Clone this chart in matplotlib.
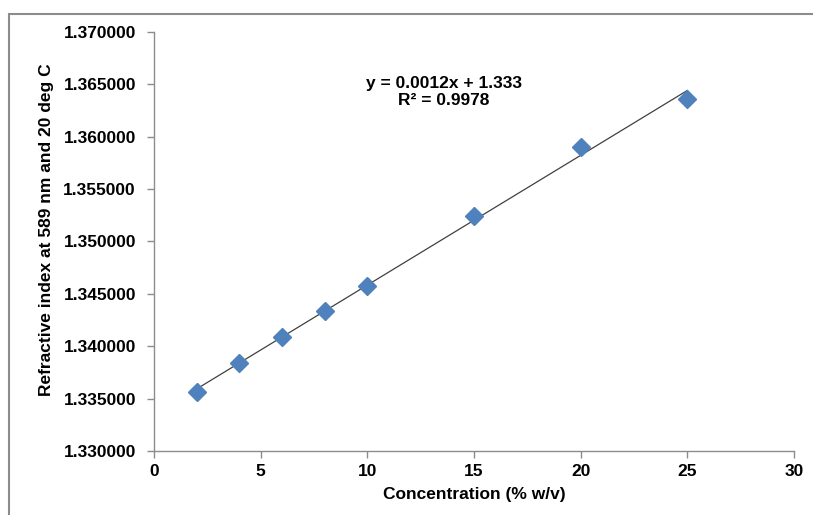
import numpy as np
import matplotlib
matplotlib.use("Agg")
import matplotlib.pyplot as plt
from matplotlib.patches import Rectangle

concentration = [2, 4, 6, 8, 10, 15, 20, 25]
refractive_index = [1.33563, 1.33840, 1.34088, 1.34337, 1.34575, 1.35243, 1.35902, 1.36360]
x_ticks = [0, 5, 10, 15, 20, 25, 30]
y_ticks = [1.330, 1.335, 1.340, 1.345, 1.350, 1.355, 1.360, 1.365, 1.370]
equation_text = "y = 0.0012x + 1.333\nR² = 0.9978"

plt.rcParams['font.family'] = ['Liberation Sans', 'DejaVu Sans']
FS = 12.5

fig = plt.figure(figsize=(8.13, 5.15), dpi=100)
W, H = 813, 515
# outer chart frame
fig.patches.append(Rectangle((8.5 / W, -0.05), 1.2, (H - 13.5) / H + 0.05,
                             transform=fig.transFigure, fill=False,
                             edgecolor='#8c8c8c', linewidth=1.5))

ax = fig.add_axes([154 / W, (H - 451) / H, (794 - 154) / W, (451 - 32) / H])
ax.set_xlim(0, 30)
ax.set_ylim(1.33, 1.37)
ax.set_xticks(x_ticks)
ax.set_yticks(y_ticks)
ax.set_yticklabels([f"{v:.6f}" for v in y_ticks])
ax.set_xticklabels([str(v) for v in x_ticks])

for s in ['top', 'right']:
    ax.spines[s].set_visible(False)
for s in ['left', 'bottom']:
    ax.spines[s].set_color('#8c8c8c')
    ax.spines[s].set_linewidth(1.0)
ax.tick_params(axis='both', colors='#8c8c8c', length=5, width=1.0, direction='out',
               labelcolor='black', labelsize=FS)
for lbl in ax.get_xticklabels() + ax.get_yticklabels():
    lbl.set_fontweight('bold')
ax.tick_params(axis='y', pad=8)
ax.tick_params(axis='x', pad=4)

# trendline
coef = np.polyfit(concentration, refractive_index, 1)
xs = np.array([min(concentration), max(concentration)])
ax.plot(xs, np.polyval(coef, xs), color='#404040', linewidth=0.9, zorder=2)

ax.plot(concentration, refractive_index, linestyle='none', marker='D',
        markersize=9.5, color='#4F81BD', markeredgecolor='#4F81BD', zorder=3)

ax.text(13.6, 1.3658, equation_text, ha='center', va='top', fontsize=FS,
        fontweight='bold', linespacing=1.15)

ax.set_xlabel("Concentration (% w/v)", fontsize=FS, fontweight='bold', labelpad=6)
ax.set_ylabel("Refractive index at 589 nm and 20 deg C", fontsize=FS,
              fontweight='bold')
ax.yaxis.set_label_coords((54 - 154) / (794 - 154), (451 - 230) / (451 - 32))

fig.savefig("out.png", dpi=100)
